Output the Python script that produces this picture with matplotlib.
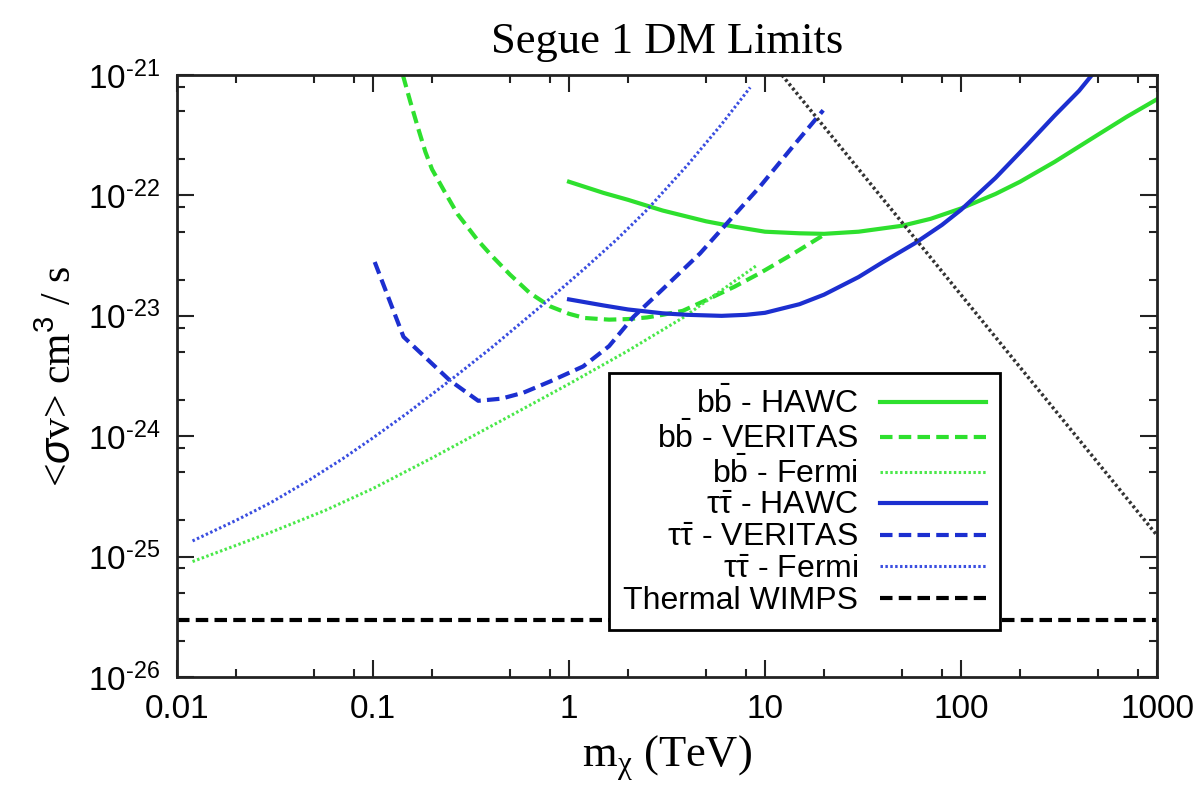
import matplotlib
matplotlib.use('Agg')
import matplotlib.pyplot as plt
from matplotlib.ticker import LogLocator, NullFormatter, FixedLocator

plt.rcParams['font.family'] = ['Liberation Sans', 'DejaVu Sans']
plt.rcParams['mathtext.fontset'] = 'custom'
plt.rcParams['mathtext.rm'] = 'Liberation Sans'
plt.rcParams['mathtext.it'] = 'Liberation Sans:italic'

# data (mass in TeV, <sigma v> in cm^3/s)
bb_hawc_m = [1, 1.5, 2, 3, 5, 7, 10, 15, 20, 30, 50, 70, 100, 150, 200, 300, 500, 700, 1000]
bb_hawc_sv = [1.3e-22, 1.05e-22, 9.2e-23, 7.5e-23, 6.1e-23, 5.5e-23, 5.0e-23, 4.85e-23, 4.8e-23, 5.0e-23,
              5.6e-23, 6.4e-23, 7.8e-23, 1.03e-22, 1.3e-22, 1.9e-22, 3.2e-22, 4.5e-22, 6.3e-22]

bb_veritas_m = [0.142, 0.155, 0.17, 0.185, 0.2, 0.23, 0.27, 0.34, 0.4, 0.5, 0.63, 0.8, 1, 1.2, 1.6, 2,
                2.5, 3, 3.8, 5, 7, 9.4, 14, 19.5]
bb_veritas_sv = [1e-21, 6e-22, 3.6e-22, 2.3e-22, 1.65e-22, 1.1e-22, 7e-23, 4.3e-23, 3.2e-23, 2.2e-23,
                 1.55e-23, 1.2e-23, 1.04e-23, 9.6e-24, 9.3e-24, 9.4e-24, 9.7e-24, 1.02e-23, 1.1e-23,
                 1.35e-23, 1.75e-23, 2.26e-23, 3.3e-23, 4.6e-23]

bb_fermi_m = [0.012, 0.02, 0.03, 0.057, 0.1, 0.2, 0.445, 1, 1.97, 3.83, 9]
bb_fermi_sv = [9.1e-26, 1.24e-25, 1.59e-25, 2.42e-25, 3.68e-25, 6.6e-25, 1.33e-24, 2.72e-24, 5.06e-24,
               9.7e-24, 2.6e-23]

tt_hawc_m = [1, 1.5, 2, 3, 4, 6, 8, 10, 15, 20, 30, 40, 58, 80, 100, 150, 216, 300, 400, 465]
tt_hawc_sv = [1.37e-23, 1.22e-23, 1.13e-23, 1.05e-23, 1.02e-23, 1.0e-23, 1.02e-23, 1.06e-23, 1.25e-23,
              1.5e-23, 2.1e-23, 2.8e-23, 4.0e-23, 5.7e-23, 7.6e-23, 1.4e-22, 2.6e-22, 4.6e-22, 7.4e-22, 1e-21]

tt_veritas_m = [0.102, 0.143, 0.247, 0.344, 0.45, 0.585, 0.8, 1.18, 1.6, 2.13, 3, 4.66, 6.5, 9.4, 14, 19.8]
tt_veritas_sv = [2.8e-23, 6.7e-24, 2.9e-24, 1.97e-24, 2.05e-24, 2.3e-24, 2.85e-24, 3.8e-24, 5.6e-24,
                 9.8e-24, 1.66e-23, 3.3e-23, 6.05e-23, 1.18e-22, 2.6e-22, 5.1e-22]

tt_fermi_m = [0.012, 0.02, 0.03, 0.047, 0.07, 0.1, 0.15, 0.26, 0.4, 0.77, 1.2, 1.75, 2.5, 4, 6, 8.4]
tt_fermi_sv = [1.35e-25, 2.0e-25, 2.8e-25, 4.3e-25, 6.5e-25, 9.7e-25, 1.56e-24, 3.1e-24, 5.4e-24,
               1.32e-23, 2.47e-23, 4.3e-23, 7.6e-23, 1.77e-22, 3.9e-22, 7.9e-22]

thermal_m = [0.01, 1000]
thermal_sv = [3e-26, 3e-26]

unitarity_m = [12.2, 1000]
unitarity_sv = [1e-21, 1.5e-25]

x_ticks = [0.01, 0.1, 1, 10, 100, 1000]
x_ticklabels = ['0.01', '0.1', '1', '10', '100', '1000']
y_exponents = [26, 25, 24, 23, 22, 21]

green = '#2ee02e'
green_light = '#4ae84a'
blue = '#1c2fd0'
blue_light = '#3a4ee0'

fig = plt.figure(figsize=(12.01, 7.92), dpi=100)
ax = fig.add_axes([0.1474, 0.1452, 0.816, 0.760])

ax.plot(bb_hawc_m, bb_hawc_sv, color=green, lw=3, label=r'b$\mathrm{\bar{b}}$ - HAWC')
ax.plot(bb_veritas_m, bb_veritas_sv, color=green, lw=3, dashes=(3, 1.5), label=r'b$\mathrm{\bar{b}}$ - VERITAS')
ax.plot(bb_fermi_m, bb_fermi_sv, color=green_light, lw=2.2, dashes=(0.8, 0.8), label=r'b$\mathrm{\bar{b}}$ - Fermi')
ax.plot(tt_hawc_m, tt_hawc_sv, color=blue, lw=3, label=r'$\mathrm{\tau\bar{\tau}}$ - HAWC')
ax.plot(tt_veritas_m, tt_veritas_sv, color=blue, lw=3, dashes=(3, 1.5), label=r'$\mathrm{\tau\bar{\tau}}$ - VERITAS')
ax.plot(tt_fermi_m, tt_fermi_sv, color=blue_light, lw=2.2, dashes=(0.8, 0.8), label=r'$\mathrm{\tau\bar{\tau}}$ - Fermi')
ax.plot(thermal_m, thermal_sv, color='black', lw=3, dashes=(3, 1.5), label='Thermal WIMPS')
ax.plot(unitarity_m, unitarity_sv, color='#333333', lw=2.5, dashes=(0.8, 0.8))

ax.set_xscale('log')
ax.set_yscale('log')
ax.set_xlim(0.01, 1000)
ax.set_ylim(1e-26, 1e-21)

ax.xaxis.set_major_locator(FixedLocator(x_ticks))
ax.set_xticklabels(x_ticklabels)
ax.xaxis.set_minor_locator(LogLocator(base=10, subs=[2, 5, 8], numticks=20))
ax.xaxis.set_minor_formatter(NullFormatter())
ax.yaxis.set_major_locator(FixedLocator([10.0 ** -e for e in y_exponents]))
ax.set_yticklabels(['$\\mathregular{10^{\u2010%d}}$' % e for e in y_exponents])
ax.yaxis.set_minor_locator(LogLocator(base=10, subs=[2, 5, 8], numticks=20))
ax.yaxis.set_minor_formatter(NullFormatter())

ax.tick_params(which='both', direction='in', top=True, right=True, width=1.5, labelsize=24, color='#222222')
ax.tick_params(which='major', length=12, pad=12)
ax.tick_params(which='minor', length=6)
for s in ax.spines.values():
    s.set_linewidth(2)
    s.set_color('#222222')

ax.set_title('Segue 1 DM Limits', family='Liberation Serif', fontsize=32, pad=16)
ax.set_xlabel(r'm$_{\mathregular{\chi}}$ (TeV)', family='Liberation Serif', fontsize=32, labelpad=6)
ax.set_ylabel(r'<$\sigma$v> cm$^3$ / s', family='Liberation Serif', fontsize=30, labelpad=6)

leg = ax.legend(loc='upper right', bbox_to_anchor=(0.840, 0.505), borderaxespad=0, markerfirst=False,
                fontsize=23, frameon=True, fancybox=False, edgecolor='black', framealpha=1,
                handlelength=3.3, labelspacing=0.05, borderpad=0.45, handletextpad=0.7)
leg.get_frame().set_linewidth(2)

fig.savefig('out.png', dpi=100)
